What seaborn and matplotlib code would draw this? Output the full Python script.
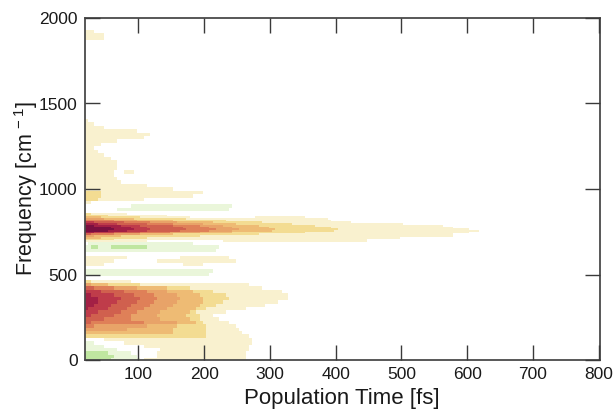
import numpy as np
import pandas as pd
import matplotlib
matplotlib.use('Agg')
import matplotlib.pyplot as plt
from matplotlib.colors import ListedColormap
import seaborn as sns

# amplitude level per frequency row, as runs of (level, time where the run ends)
low_band = {
    0: [(-2,55),(-1,100),(0,105),(1,262)],
    20: [(-2,60),(-1,95),(0,125),(1,262)],
    40: [(-2,50),(-1,85),(0,125),(1,262)],
    60: [(-1,65),(0,133),(1,265)],
    80: [(-1,45),(0,105),(1,268)],
    100: [(-1,30),(0,75),(1,272)],
    120: [(0,45),(1,272)],
    140: [(2,199),(1,265)],
    160: [(3,150),(2,199),(1,258)],
    180: [(4,80),(3,150),(2,199),(1,252)],
    200: [(5,30),(4,110),(3,155),(2,199),(1,245)],
    220: [(6,25),(5,105),(4,155),(3,185),(2,198),(1,235)],
    240: [(6,45),(5,85),(4,130),(3,178),(2,193),(1,222)],
    260: [(7,25),(6,60),(5,85),(4,125),(3,172),(2,190),(1,210)],
    280: [(7,35),(6,70),(5,95),(4,130),(3,178),(2,188),(1,232)],
    300: [(8,22),(7,50),(6,80),(5,105),(4,140),(3,185),(2,200),(1,260)],
    320: [(8,30),(7,58),(6,88),(5,115),(4,150),(3,192),(2,215),(1,290)],
    340: [(8,35),(7,65),(6,95),(5,120),(4,155),(3,196),(2,225),(1,310)],
    360: [(8,38),(7,69),(6,99),(5,125),(4,160),(3,196),(2,235),(1,325)],
    380: [(8,25),(7,60),(6,92),(5,122),(4,155),(3,190),(2,230),(1,328)],
    400: [(7,40),(6,75),(5,110),(4,140),(3,180),(2,210),(1,315)],
    420: [(6,30),(5,60),(4,95),(3,140),(2,175),(1,285)],
    440: [(4,25),(3,50),(2,100),(1,268)],
    460: [(2,25),(1,85)],
}
mid_band = {
    500: [(-1,205)],
    520: [(-1,212)],
    560: [(1,45),(0,165),(1,195)],
    580: [(1,60),(0,128),(1,245)],
    600: [(1,80),(0,160),(1,235)],
    640: [(-1,215)],
    660: [(-1,26),(-2,38),(-1,57),(-2,110),(-1,222)],
    680: [(0,20),(-1,180)],
}
# the main line is narrow, read it in rows half as wide
main_band = {
    690: [(1,110),(0,225),(1,445)],
    700: [(2,60),(1,445)],
    710: [(3,40),(2,110),(1,498)],
    720: [(4,30),(3,70),(2,190),(1,574)],
    730: [(6,25),(5,60),(4,100),(3,150),(2,280),(1,574)],
    740: [(8,30),(7,60),(6,100),(5,145),(4,190),(3,240),(2,350),(1,600)],
    750: [(9,50),(8,80),(7,110),(6,160),(5,205),(4,240),(3,300),(2,395),(1,618)],
    760: [(9,60),(8,90),(7,115),(6,172),(5,215),(4,250),(3,305),(2,402),(1,600)],
    770: [(9,55),(8,85),(7,112),(6,165),(5,208),(4,240),(3,295),(2,390),(1,574)],
    780: [(9,30),(8,70),(7,100),(6,150),(5,190),(4,225),(3,280),(2,365),(1,560)],
    790: [(8,35),(7,65),(6,110),(5,150),(4,195),(3,245),(2,330),(1,500)],
    800: [(7,30),(6,75),(5,115),(4,155),(3,210),(2,285),(1,420)],
    810: [(5,60),(4,95),(3,150),(2,230),(1,392)],
    820: [(4,45),(3,90),(2,170),(1,385)],
    830: [(3,40),(2,100),(1,175),(0,275),(1,350)],
    840: [(2,50),(1,140)],
    850: [(2,25),(1,80)],
}
high_band = {
    880: [(0,65),(-1,235)],
    900: [(0,85),(-1,240)],
    920: [(1,28)],
    940: [(2,38),(1,105)],
    960: [(2,43),(1,180)],
    980: [(2,43),(1,198)],
    1000: [(1,150)],
    1020: [(1,110)],
    1040: [(1,72)],
    1060: [(1,68)],
    1080: [(1,60)],
    1100: [(1,60),(0,75),(1,92)],
    1120: [(1,68)],
    1140: [(1,68)],
    1160: [(1,65)],
    1180: [(1,58)],
    1200: [(1,48)],
    1220: [(1,35)],
    1240: [(1,33)],
    1260: [(1,40)],
    1280: [(1,65)],
    1300: [(1,105)],
    1320: [(1,118)],
    1340: [(1,95)],
    1360: [(1,45)],
    1380: [(1,30)],
    1400: [(1,22)],
    1880: [(1,45)],
    1900: [(1,45)],
    1920: [(1,30)],
}
level_colors = ['#bfe6a0', '#eaf6da', '#ffffff', '#f9f1cf', '#f3dc92', '#eebb74',
                '#e8a368', '#df8058', '#d0604e', '#bf3c4a', '#a32045', '#7a1040']
x_ticks = [100, 200, 300, 400, 500, 600, 700, 800]
y_ticks = [0, 500, 1000, 1500, 2000]

t0 = 18
dt = 5
df_step = 10
times = np.arange(t0, 802, dt)
freqs = np.arange(0, 2001, df_step)

grid = pd.DataFrame(0, index=freqs, columns=times)

def fill_row(f, runs):
    start = t0
    for level, end in runs:
        grid.loc[f, (times >= start) & (times < end)] = level
        start = end

for band in [low_band, mid_band, high_band]:
    for f, runs in band.items():
        fill_row(f, runs)
        if f > 0:
            fill_row(f-df_step, runs)
for f, runs in main_band.items():
    fill_row(f, runs)

sns.set_style('white')
plt.rcParams['font.family'] = ['Liberation Sans', 'DejaVu Sans']
plt.rcParams['mathtext.fontset'] = 'custom'
plt.rcParams['mathtext.rm'] = 'Liberation Sans'
plt.rcParams['mathtext.default'] = 'regular'

fig = plt.figure(figsize=(6.13, 4.11), dpi=100)
ax = fig.add_axes([84.5/613, 1-360/411, (600-84.5)/613, (360-18)/411])
sns.heatmap(grid, ax=ax, cmap=ListedColormap(level_colors), vmin=-2.5, vmax=9.5,
            cbar=False, xticklabels=False, yticklabels=False)

# heatmap axes count cells, so ticks go through the cell index
ax.set_xlim(0, (802-t0)/dt)
ax.set_ylim(0, 2000/df_step)
ax.set_axisbelow(False)
ax.set_xticks([(t-t0)/dt for t in x_ticks])
ax.set_xticklabels([str(t) for t in x_ticks], rotation=0)
ax.set_yticks([f/df_step for f in y_ticks])
ax.set_yticklabels([str(f) for f in y_ticks], rotation=0)
ax.tick_params(direction='in', length=10.8, width=1, color='#3a3a3a', top=True, right=True,
               bottom=True, left=True, labelsize=12.5, labelcolor='#1a1a1a', pad=5)
for s in ax.spines.values():
    s.set_visible(True)
    s.set_linewidth(1.3)
    s.set_color('#4a4a4a')
ax.set_xlabel('Population Time [fs]', fontsize=16, color='#1a1a1a', labelpad=4.5)
ax.set_ylabel('Frequency [cm$^{\\,-1}$]', fontsize=15.5, color='#1a1a1a', labelpad=-1)

fig.savefig('out.png', dpi=100)
